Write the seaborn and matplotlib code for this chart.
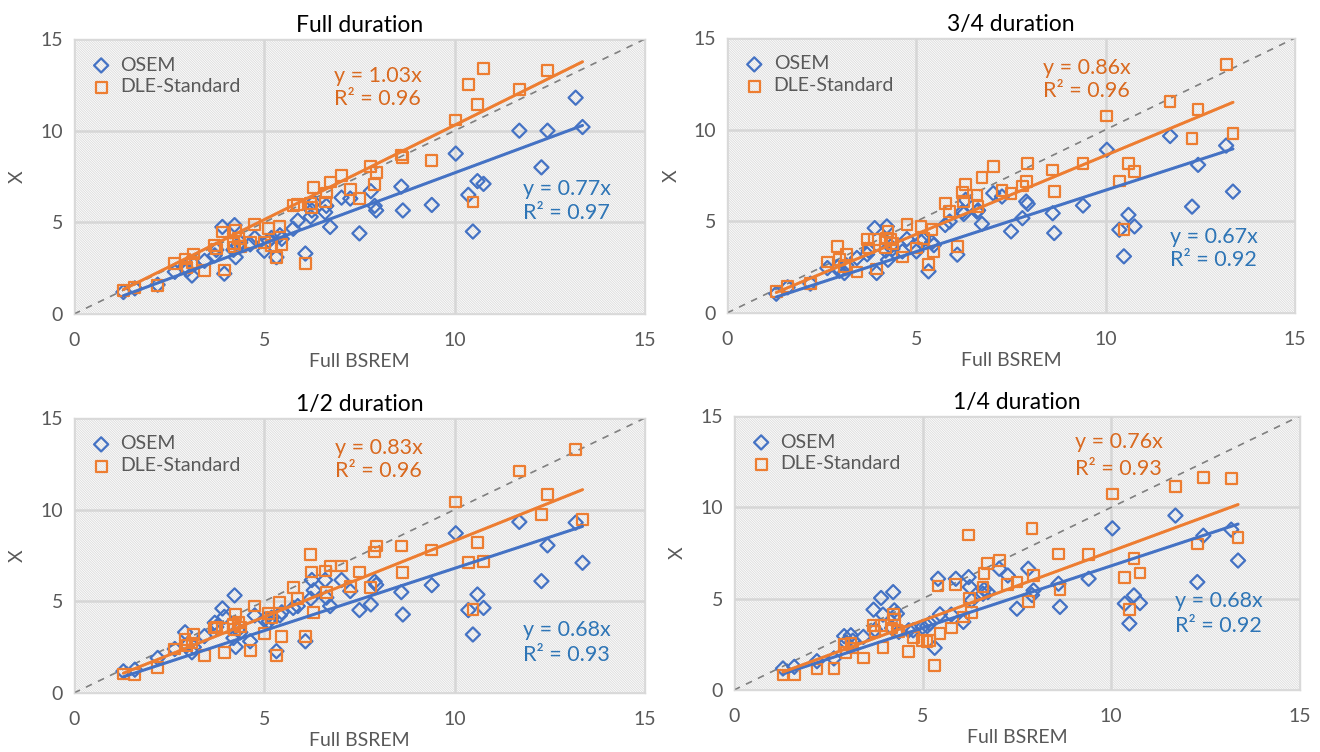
# -*- coding: utf-8 -*-

"""
    四种采集时长下 OSEM / DLE-Standard 与 Full BSREM 的散点对比
"""
import numpy as np
import pandas as pd
import matplotlib
matplotlib.use('Agg')
import matplotlib.pyplot as plt
from matplotlib.patches import Rectangle
import seaborn as sns

nan = np.nan

# 横轴：Full BSREM
x_bsrem = [1.3, 1.6, 2.2, 2.65, 2.92, 2.97, 3.1, 3.15, 3.43, 3.7,
           3.74, 3.9, 3.95, 4.19, 4.22, 4.25, 4.32, 4.37, 4.63, 4.75,
           5.0, 5.12, 5.19, 5.32, 5.41, 5.46, 5.76, 5.88, 6.08, 6.22,
           6.25, 6.3, 6.6, 6.63, 6.73, 7.03, 7.26, 7.5, 7.8, 7.9,
           7.94, 8.6, 8.64, 9.4, 10.03, 10.36, 10.48, 10.6, 10.76, 11.7,
           12.28, 12.44, 13.18, 13.36]

osem_full = [1.2, 1.4, 1.6, 2.3, 2.6, 2.4, 2.1, 2.7, 2.9, 3.2,
             3.5, 4.75, 2.2, 3.5, 4.85, 3.1, 3.7, 3.9, 3.8, 4.15,
             3.45, 4.0, 4.15, 3.1, 4.3, 4.1, 4.65, 5.1, 3.3, 5.3,
             5.65, 6.1, 5.55, 5.9, 4.75, 6.35, 6.3, 4.4, 6.7, 5.9,
             5.65, 6.95, 5.65, 5.95, 8.75, 6.5, 4.5, 7.25, 7.1, 10.0,
             8.0, 10.0, 11.8, 10.2]
dle_full = [1.28, 1.46, 1.55, 2.75, 3.0, 2.55, 2.8, 3.28, 2.37, 3.75,
            3.55, 4.47, 2.4, 3.83, 3.65, 4.56, 4.1, 3.7, 3.92, 4.87,
            3.92, 4.65, 3.75, 3.1, 4.78, 3.78, 5.93, 5.99, 2.74, 6.02,
            5.8, 6.9, 6.11, 6.6, 7.2, 7.57, 6.8, 6.3, 8.03, 7.08,
            7.7, 8.67, 8.55, 8.39, 10.58, 12.5, 6.11, 11.44, 13.38, 12.23,
            nan, 13.3, nan, nan]

osem_34 = [1.05, 1.4, 1.6, 2.45, 2.5, 2.3, 2.18, 2.6, 3.0, 3.2,
           3.4, 4.63, 2.18, 3.4, 4.72, 2.9, 3.63, 3.5, 3.36, 4.03,
           3.36, 3.9, 4.0, 2.27, 3.85, 3.7, 4.8, 4.99, 3.18, 5.53,
           5.4, 6.17, 5.53, 5.6, 4.86, 6.53, 6.35, 4.45, 5.17, 6.08,
           5.95, 5.44, 4.36, 5.86, 8.9, 4.54, 3.09, 5.35, 4.72, 9.65,
           5.8, 8.08, 9.13, 6.62]
dle_34 = [1.18, 1.45, 1.6, 2.78, 3.63, 2.9, 2.54, 3.18, 2.23, 3.99,
          3.54, 3.99, 2.4, 3.54, 4.08, 4.45, 3.99, 3.8, 3.05, 4.81,
          3.54, 4.72, 4.08, 2.63, 4.54, 3.36, 5.99, 5.53, 3.63, 6.57,
          6.08, 6.99, 6.44, 5.81, 7.4, 7.99, 6.68, 6.53, 6.93, 7.17,
          8.17, 7.8, 6.62, 8.17, 10.74, 7.2, 4.54, 8.17, 7.71, 11.52,
          9.53, 11.1, 13.56, 9.8]

osem_12 = [1.18, 1.27, 1.91, 2.4, 3.31, 2.6, 2.22, 2.5, 3.1, 3.83,
           3.6, 4.61, 4.15, 3.0, 5.32, 2.51, 3.46, 3.3, 2.82, 4.23,
           4.0, 3.9, 4.1, 2.28, 4.23, 4.4, 4.64, 4.74, 2.82, 5.14,
           6.16, 5.6, 6.16, 5.2, 4.74, 6.16, 5.56, 4.52, 4.83, 6.07,
           5.9, 5.5, 4.28, 5.88, 8.71, 4.52, 3.19, 5.37, 4.64, 9.33,
           6.1, 8.05, 9.29, 7.1]
dle_12 = [1.04, 1.0, 1.4, 2.4, 2.91, 2.59, 2.73, 3.19, 2.04, 3.55,
          3.6, 3.55, 2.19, 3.73, 3.46, 4.28, 3.83, 3.6, 2.33, 4.74,
          3.24, 4.33, 4.1, 2.04, 4.95, 3.06, 5.74, 5.14, 3.06, 7.56,
          6.6, 4.37, 6.65, 5.46, 6.92, 6.92, 5.79, 6.6, 5.74, 7.69,
          8.01, 8.01, 6.56, 7.8, 10.42, 7.1, 4.55, 8.2, 7.19, 12.11,
          9.74, 10.84, 13.26, 9.47]

osem_14 = [1.18, 1.27, 1.58, 1.73, 2.95, 2.6, 3.0, 2.7, 2.91, 4.4,
           3.3, 5.04, 4.13, 3.4, 5.36, 4.36, 4.18, 3.18, 3.27, 3.27,
           3.45, 3.5, 3.64, 2.31, 6.09, 4.15, 4.13, 6.09, 3.73, 6.18,
           5.64, 4.91, 5.27, 5.5, 5.36, 6.64, 6.27, 4.45, 6.64, 5.2,
           5.45, 5.82, 4.55, 6.09, 8.85, 4.73, 3.64, 5.18, 4.76, 9.55,
           5.91, 8.45, 8.78, 7.09]
dle_14 = [0.82, 0.82, 1.15, 1.18, 2.49, 2.05, 2.55, 2.3, 1.76, 3.55,
          3.22, 3.55, 2.31, 3.4, 4.13, 3.85, 3.27, 3.22, 2.09, 2.87,
          2.73, 2.64, 2.7, 1.33, 5.69, 3.09, 3.4, 5.76, 4.0, 8.49,
          5.04, 4.24, 5.64, 6.36, 6.91, 7.09, 5.76, 5.91, 4.85, 8.85,
          6.27, 7.45, 5.51, 7.4, 10.73, 6.18, 4.42, 7.18, 6.4, 11.13,
          8.0, 11.64, 11.58, 8.36]

titles = ['Full duration', '3/4 duration', '1/2 duration', '1/4 duration']
osem_slope = [0.77, 0.67, 0.68, 0.68]
osem_r2 = [0.97, 0.92, 0.93, 0.92]
dle_slope = [1.03, 0.86, 0.83, 0.76]
dle_r2 = [0.96, 0.96, 0.96, 0.93]

series_labels = ['OSEM', 'DLE-Standard']
tick_values = [0, 5, 10, 15]

BLUE = '#4472C4'
ORANGE = '#ED7D31'
BLUE_TXT = '#2E75B6'
ORANGE_TXT = '#D9691F'
GRAY_TXT = '#595959'


def collect_data():
    """
        数据整理
    """
    osem_all = [osem_full, osem_34, osem_12, osem_14]
    dle_all = [dle_full, dle_34, dle_12, dle_14]
    frames = []
    for i, title in enumerate(titles):
        frames.append(pd.DataFrame({'panel': title, 'series': series_labels[0],
                                    'x': x_bsrem, 'y': osem_all[i]}))
        frames.append(pd.DataFrame({'panel': title, 'series': series_labels[1],
                                    'x': x_bsrem, 'y': dle_all[i]}))
    return pd.concat(frames, ignore_index=True)


def draw_panel(ax, data_df, i, text_pos):
    """
        单个子图
    """
    ax.set_xlim(0, 15)
    ax.set_ylim(0, 15)
    ax.set_facecolor('white')

    # 斜线底纹
    ax.add_patch(Rectangle((0, 0), 1, 1, transform=ax.transAxes, facecolor='white',
                           edgecolor='#dadada', hatch='\\' * 14, lw=0, zorder=0))
    ax.grid(True, color='#d6d6d6', lw=1.8, zorder=1)
    ax.set_axisbelow(True)

    # y = x 参考线
    sns.lineplot(x=[0, 15], y=[0, 15], ax=ax, color='#7f7f7f', lw=1.2,
                 linestyle=(0, (4, 4)), zorder=2)

    panel_df = data_df[data_df['panel'] == titles[i]]
    osem_df = panel_df[panel_df['series'] == series_labels[0]]
    dle_df = panel_df[panel_df['series'] == series_labels[1]]

    sns.scatterplot(x='x', y='y', data=osem_df, ax=ax, marker='D', s=52,
                    facecolor='none', edgecolor=BLUE, linewidth=1.6,
                    label=series_labels[0], zorder=3)
    sns.scatterplot(x='x', y='y', data=dle_df, ax=ax, marker='s', s=60,
                    facecolor='none', edgecolor=ORANGE, linewidth=1.6,
                    label=series_labels[1], zorder=4)

    # 过原点的趋势线
    xs = np.array([min(x_bsrem), max(x_bsrem)])
    sns.lineplot(x=xs, y=osem_slope[i] * xs, ax=ax, color=BLUE, lw=2.2, zorder=5)
    sns.lineplot(x=xs, y=dle_slope[i] * xs, ax=ax, color=ORANGE, lw=2.2, zorder=5)

    # 回归方程文字（两行分开放）
    (ox, oy1, oy2), (bx, by1, by2) = text_pos
    ax.text(ox, oy1, 'y = {:.2f}x'.format(dle_slope[i]), color=ORANGE_TXT,
            fontsize=15.5, va='center', zorder=6)
    ax.text(ox, oy2, 'R² = {:.2f}'.format(dle_r2[i]), color=ORANGE_TXT,
            fontsize=15.5, va='center', zorder=6)
    ax.text(bx, by1, 'y = {:.2f}x'.format(osem_slope[i]), color=BLUE_TXT,
            fontsize=15.5, va='center', zorder=6)
    ax.text(bx, by2, 'R² = {:.2f}'.format(osem_r2[i]), color=BLUE_TXT,
            fontsize=15.5, va='center', zorder=6)

    ax.set_xticks(tick_values)
    ax.set_yticks(tick_values)
    ax.tick_params(axis='both', length=0, labelsize=14, labelcolor=GRAY_TXT)
    ax.tick_params(axis='x', pad=13)
    ax.tick_params(axis='y', pad=8)
    for side in ['top', 'right', 'bottom', 'left']:
        ax.spines[side].set_visible(True)
        ax.spines[side].set_color('#d9d9d9')
        ax.spines[side].set_linewidth(1.0)

    ax.set_title(titles[i], fontsize=16.5, pad=5, color='black')
    ax.set_xlabel('Full BSREM', fontsize=14, color=GRAY_TXT, labelpad=3)
    ax.set_ylabel('X', fontsize=14, color=GRAY_TXT, labelpad=10)

    ax.legend(loc='upper left', frameon=False, fontsize=14, labelcolor=GRAY_TXT,
              handletextpad=0.5, borderaxespad=0.5, labelspacing=0.25,
              handlelength=1.0, markerscale=1.0)


def save_and_show_results(data_df):
    """
        结果展示
    """
    sns.set_style('white')
    plt.rcParams['font.family'] = ['Lato', 'DejaVu Sans']
    plt.rcParams['hatch.linewidth'] = 0.6

    fig = plt.figure(figsize=(13.2, 7.52), dpi=100)
    positions = [
        [0.056, 0.5824, 0.4326, 0.3657],
        [0.5508, 0.5838, 0.4303, 0.3657],
        [0.056, 0.0785, 0.4326, 0.3657],
        [0.556, 0.0824, 0.4288, 0.3644],
    ]
    # 注释文字位置（数据坐标：x, 第一行 y, 第二行 y）
    text_positions = [
        [(6.83, 13.0, 11.75), (11.8, 6.8, 5.5)],
        [(8.35, 13.37, 12.1), (11.7, 4.15, 2.9)],
        [(6.86, 13.37, 12.1), (11.8, 3.44, 2.07)],
        [(9.04, 13.6, 12.1), (11.69, 4.87, 3.5)],
    ]
    for i, pos in enumerate(positions):
        ax = fig.add_axes(pos)
        draw_panel(ax, data_df, i, text_positions[i])

    fig.savefig('out.png', dpi=100)


def main():
    """
        主函数
    """
    data_df = collect_data()
    save_and_show_results(data_df)


if __name__ == '__main__':
    main()
